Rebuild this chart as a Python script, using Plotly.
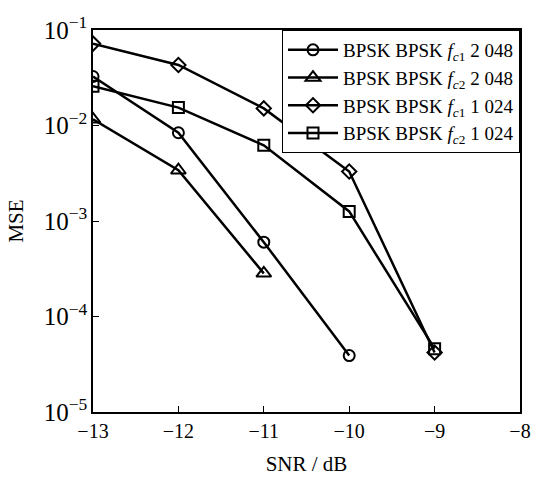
import plotly.graph_objects as go

snr = [-13, -12, -11, -10, -9]

# MSE curves for the two carrier estimates at two data lengths
mse_fc1_2048 = [0.0326, 0.0084, 6.0e-4, 3.9e-5]
mse_fc2_2048 = [0.0116, 0.0034, 2.83e-4]
mse_fc1_1024 = [0.072, 0.043, 0.0151, 0.0033, 4.2e-5]
mse_fc2_1024 = [0.0258, 0.0154, 0.0062, 0.00126, 4.6e-5]

names = [
    "BPSK BPSK <i>f</i><sub><i>c</i>1</sub> 2 048",
    "BPSK BPSK <i>f</i><sub><i>c</i>2</sub> 2 048",
    "BPSK BPSK <i>f</i><sub><i>c</i>1</sub> 1 024",
    "BPSK BPSK <i>f</i><sub><i>c</i>2</sub> 1 024",
]
series = [mse_fc1_2048, mse_fc2_2048, mse_fc1_1024, mse_fc2_1024]
symbols = ["circle-open", "triangle-up-open", "diamond-open", "square-open"]
sizes = [11, 13, 11, 11]

FONT = "Liberation Serif, Times New Roman, serif"

fig = go.Figure()
for name, ys, sym, sz in zip(names, series, symbols, sizes):
    fig.add_trace(go.Scatter(
        x=snr[:len(ys)], y=ys, name=name, mode="lines+markers",
        line=dict(color="black", width=2.5),
        marker=dict(symbol=sym, size=sz, color="black",
                    line=dict(color="black", width=2)),
    ))

fig.update_layout(
    width=544, height=487,
    margin=dict(l=93, r=24, t=18, b=75),
    paper_bgcolor="white", plot_bgcolor="white",
    font=dict(family=FONT, size=20, color="black"),
    showlegend=True,
    legend=dict(
        x=1, y=1, xanchor="right", yanchor="top",
        bgcolor="white", bordercolor="black", borderwidth=1,
        font=dict(family=FONT, size=19), tracegroupgap=0,
        itemwidth=50,
    ),
)
fig.update_xaxes(
    range=[-13, -8], dtick=1, showgrid=False, zeroline=False,
    showline=True, linecolor="black", linewidth=1.5, mirror=True,
    ticks="inside", ticklen=6, tickcolor="black",
    tickfont=dict(family=FONT, size=20),
    title=dict(text="SNR / dB", font=dict(family=FONT, size=21), standoff=16),
)
fig.update_yaxes(
    type="log", range=[-5, -1], dtick=1, exponentformat="power",
    showgrid=False, zeroline=False,
    showline=True, linecolor="black", linewidth=1.5, mirror=True,
    ticks="inside", ticklen=6, tickcolor="black",
    tickfont=dict(family=FONT, size=20),
    title=dict(text="MSE", font=dict(family=FONT, size=21), standoff=14),
)

fig.write_html("out.html")
